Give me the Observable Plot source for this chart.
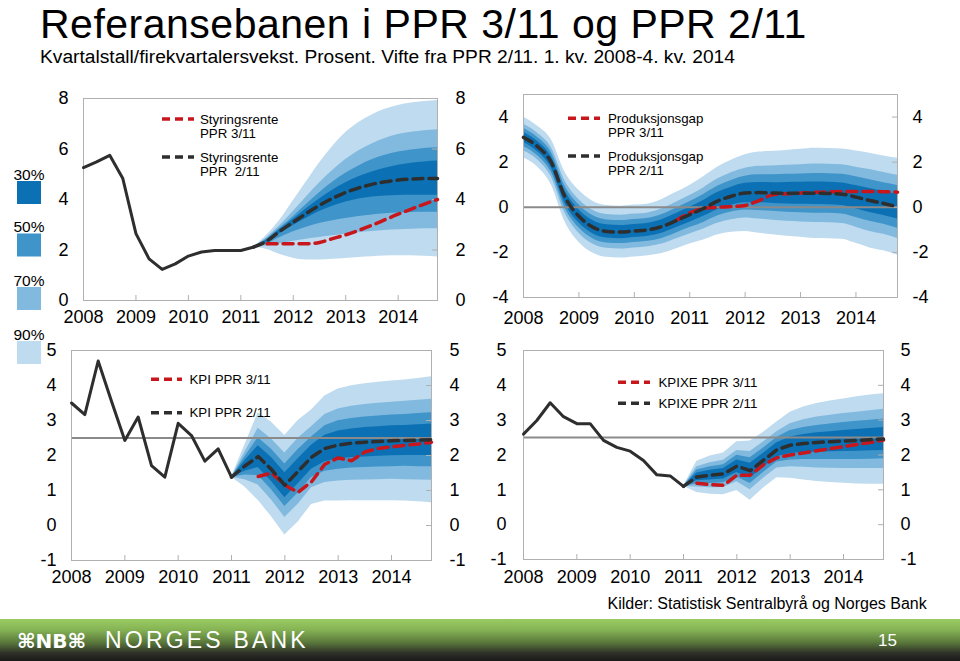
<!DOCTYPE html>
<html>
<head>
<meta charset="utf-8">
<script src="https://cdn.jsdelivr.net/npm/d3@7"></script>
<script src="https://cdn.jsdelivr.net/npm/@observablehq/plot@0.6"></script>
<style>
  html,body{margin:0;padding:0;background:#fff;}
  #page{position:relative;width:960px;height:661px;overflow:hidden;background:#fff;font-family:"Liberation Sans",Arial,Helvetica,sans-serif;}
  .panel{position:absolute;}
  .panel svg{display:block;}
  #footer{position:absolute;left:0;top:619px;width:960px;height:42px;background:linear-gradient(to bottom,#9acb62 0%,#86b455 25%,#5b7a3c 55%,#2d2f28 82%,#1a1a1a 100%);}
  #overlay{position:absolute;left:0;top:0;}
</style>
</head>
<body>
<div id="page">
  <div id="footer"></div>
  <div class="panel" id="p1" style="left:40px;top:85px"></div>
  <div class="panel" id="p2" style="left:480px;top:80px"></div>
  <div class="panel" id="p3" style="left:30px;top:340px"></div>
  <div class="panel" id="p4" style="left:480px;top:340px"></div>
  <svg id="overlay" width="960" height="661"></svg>
</div>
<script>
// ---------------- data ----------------
const years = [2008, 2009, 2010, 2011, 2012, 2013, 2014];
const bandLevels = ["90%", "70%", "50%", "30%"];
const bandColors = ["#bfdbef", "#82badf", "#3f94c9", "#0b71b4"];
const legendLevels = ["30%", "50%", "70%", "90%"];
const legendColors = ["#0b71b4", "#3f94c9", "#82badf", "#bfdbef"];

// Panel 1: Styringsrente (quarterly)
const rateHistStart = 2008;
const rateHist = [5.26, 5.49, 5.75, 4.83, 2.65, 1.65, 1.23, 1.45, 1.76, 1.92, 1.98, 1.98, 1.98, 2.12];
const rateFanStart = 2011.25;
const rate211 = [2.12, 2.36, 2.75, 3.1, 3.45, 3.77, 4.05, 4.28, 4.46, 4.6, 4.7, 4.77, 4.81, 4.83, 4.83];
const rateHi90 = [2.12, 2.6, 3.2, 3.95, 4.7, 5.45, 6.1, 6.65, 7.05, 7.35, 7.57, 7.72, 7.82, 7.88, 7.92];
const rateHi70 = [2.12, 2.5, 2.98, 3.52, 4.1, 4.65, 5.15, 5.58, 5.93, 6.2, 6.42, 6.57, 6.66, 6.72, 6.76];
const rateHi50 = [2.12, 2.45, 2.88, 3.32, 3.8, 4.27, 4.68, 5.04, 5.33, 5.57, 5.75, 5.88, 5.96, 6.02, 6.05];
const rateHi30 = [2.12, 2.41, 2.82, 3.22, 3.63, 4.02, 4.37, 4.66, 4.9, 5.09, 5.24, 5.36, 5.44, 5.49, 5.52];
const rateLo30 = [2.12, 2.31, 2.66, 2.97, 3.26, 3.52, 3.73, 3.9, 4.02, 4.1, 4.14, 4.16, 4.17, 4.17, 4.17];
const rateLo50 = [2.12, 2.25, 2.5, 2.72, 2.9, 3.05, 3.16, 3.25, 3.33, 3.39, 3.44, 3.47, 3.49, 3.5, 3.5];
const rateLo70 = [2.12, 2.16, 2.25, 2.35, 2.43, 2.5, 2.56, 2.62, 2.68, 2.73, 2.77, 2.8, 2.82, 2.84, 2.84];
const rateLo90 = [2.12, 2.02, 1.82, 1.67, 1.6, 1.6, 1.63, 1.66, 1.7, 1.73, 1.76, 1.77, 1.77, 1.75, 1.72];
const rate311Start = 2011.5;
const rate311 = [2.25, 2.25, 2.25, 2.25, 2.3, 2.45, 2.6, 2.78, 2.98, 3.2, 3.42, 3.62, 3.82, 4.0];
const rateTicks = [0, 2, 4, 6, 8];

// Panel 2: Produksjonsgap
const gapStart = 2008;
const gap211 = [3.1, 2.7, 2.0, 0.45, -0.4, -0.88, -1.07, -1.1, -1.05, -1.0, -0.85, -0.6, -0.33, -0.05, 0.27, 0.49, 0.63, 0.65, 0.63, 0.62, 0.62, 0.62, 0.61, 0.58, 0.45, 0.3, 0.17, 0.02];
const gapW90 = [0.9, 0.9, 1.0, 1.1, 1.15, 1.15, 1.15, 1.15, 1.15, 1.15, 1.2, 1.25, 1.3, 1.4, 1.5, 1.6, 1.7, 1.8, 1.85, 1.9, 1.95, 2.0, 2.0, 2.0, 2.05, 2.1, 2.1, 2.15];
const gapW70 = [0.59, 0.59, 0.65, 0.72, 0.75, 0.75, 0.75, 0.75, 0.75, 0.75, 0.78, 0.81, 0.85, 0.91, 0.98, 1.04, 1.1, 1.17, 1.2, 1.24, 1.27, 1.3, 1.3, 1.3, 1.33, 1.37, 1.37, 1.4];
const gapW50 = [0.4, 0.4, 0.44, 0.48, 0.51, 0.51, 0.51, 0.51, 0.51, 0.51, 0.53, 0.55, 0.57, 0.62, 0.66, 0.7, 0.75, 0.79, 0.81, 0.84, 0.86, 0.88, 0.88, 0.88, 0.9, 0.92, 0.92, 0.95];
const gapW30 = [0.23, 0.23, 0.25, 0.28, 0.29, 0.29, 0.29, 0.29, 0.29, 0.29, 0.3, 0.31, 0.33, 0.35, 0.38, 0.4, 0.43, 0.45, 0.46, 0.48, 0.49, 0.5, 0.5, 0.5, 0.51, 0.53, 0.53, 0.54];
const gap311Start = 2010.75;
const gap311 = [-0.6, -0.25, -0.05, 0.0, 0.03, 0.08, 0.3, 0.55, 0.6, 0.63, 0.66, 0.68, 0.7, 0.7, 0.7, 0.69, 0.67];
const gapTicks = [-4, -2, 0, 2, 4];
const gapZero = 0;

// Panel 3: KPI
const cpiHistStart = 2008;
const cpiHist = [3.5, 3.17, 4.7, 3.55, 2.43, 3.1, 1.71, 1.38, 2.92, 2.57, 1.84, 2.19, 1.38];
const cpiFanStart = 2011;
const cpi211 = [1.38, 1.7, 1.97, 1.6, 1.15, 1.55, 1.95, 2.2, 2.3, 2.35, 2.38, 2.4, 2.42, 2.43, 2.44, 2.45];
const cpiW90 = [0, 0.6, 1.25, 1.35, 1.42, 1.45, 1.35, 1.5, 1.6, 1.64, 1.67, 1.69, 1.71, 1.73, 1.76, 1.8];
const cpiW70 = [0, 0.39, 0.81, 0.87, 0.92, 0.94, 0.87, 0.97, 1.03, 1.06, 1.08, 1.09, 1.1, 1.12, 1.14, 1.16];
const cpiW50 = [0, 0.26, 0.54, 0.58, 0.61, 0.62, 0.58, 0.65, 0.69, 0.71, 0.72, 0.73, 0.74, 0.74, 0.76, 0.77];
const cpiW30 = [0, 0.15, 0.31, 0.34, 0.36, 0.36, 0.34, 0.38, 0.4, 0.41, 0.42, 0.42, 0.43, 0.43, 0.44, 0.45];
const cpi311Start = 2011.5;
const cpi311 = [1.4, 1.5, 1.15, 0.95, 1.25, 1.75, 1.93, 1.85, 2.1, 2.2, 2.25, 2.29, 2.33, 2.38];

// Panel 4: KPIXE
const kpixeHistStart = 2008;
const kpixeHist = [2.6, 2.99, 3.5, 3.1, 2.9, 2.9, 2.42, 2.22, 2.11, 1.84, 1.43, 1.4, 1.1];
const kpixeFanStart = 2011;
const kpixe211 = [1.1, 1.37, 1.42, 1.46, 1.68, 1.55, 1.85, 2.15, 2.28, 2.33, 2.36, 2.38, 2.4, 2.42, 2.44, 2.46];
const kpixeW90 = [0, 0.45, 0.55, 0.6, 0.7, 0.85, 0.8, 0.8, 0.95, 1.05, 1.12, 1.17, 1.21, 1.25, 1.28, 1.3];
const kpixeW70 = [0, 0.29, 0.36, 0.39, 0.45, 0.55, 0.52, 0.52, 0.62, 0.68, 0.73, 0.76, 0.79, 0.81, 0.83, 0.85];
const kpixeW50 = [0, 0.2, 0.24, 0.26, 0.31, 0.37, 0.35, 0.35, 0.42, 0.46, 0.49, 0.51, 0.53, 0.55, 0.56, 0.57];
const kpixeW30 = [0, 0.11, 0.14, 0.15, 0.18, 0.21, 0.2, 0.2, 0.24, 0.26, 0.28, 0.29, 0.3, 0.31, 0.32, 0.33];
const kpixe311Start = 2011.25;
const kpixe311 = [1.19, 1.15, 1.13, 1.42, 1.42, 1.72, 1.92, 2.0, 2.06, 2.12, 2.18, 2.24, 2.3, 2.36, 2.43];
const inflTicks = [-1, 0, 1, 2, 3, 4, 5];
const inflationTarget = 2.5;

// ---------------- helpers ----------------
const DARK = "#2e2e2e", RED = "#c8161d", GRID = "#b0b0b0";
const FONT = '"Liberation Sans", Arial, Helvetica, sans-serif';

function seriesRows(start, values) {
  return values.map((v, i) => ({t: start + i * 0.25, v}));
}
function fanRows(start, med, lows, highs) {
  return med.map((m, i) => ({t: start + i * 0.25, med: m, lo: lows.map(a => a[i]), hi: highs.map(a => a[i])}));
}
function symFan(start, med, widths) {
  const lows = widths.map(w => med.map((m, i) => m - w[i]));
  const highs = widths.map(w => med.map((m, i) => m + w[i]));
  return fanRows(start, med, lows, highs);
}

function panel(id, c) {
  const pw = c.width - c.ml - c.mr, ph = c.height - c.mt - c.mb;
  const fmt = d => String(d);
  const marks = [
    ...bandLevels.map((_, k) => Plot.areaY(c.fan, {x: "t", y1: d => d.lo[k], y2: d => d.hi[k], fill: bandColors[k], curve: c.curve})),
    c.ref != null ? Plot.ruleY([c.ref], {stroke: "#8a8a8a", strokeWidth: 2}) : null,
    Plot.frame({stroke: GRID, strokeWidth: 1}),
    Plot.tickX(years.slice(1), {x: d => d, insetTop: ph - 5, stroke: GRID}),
    Plot.tickY(c.yticks, {y: d => d, insetLeft: pw - 5, stroke: GRID}),
    c.red ? Plot.line(c.red, {x: "t", y: "v", stroke: RED, strokeWidth: 3.5, strokeDasharray: "10,6", curve: c.curve}) : null,
    Plot.line(c.fan, {x: "t", y: "med", stroke: DARK, strokeWidth: 3.5, strokeDasharray: "10,6", curve: c.curve}),
    c.hist ? Plot.line(c.hist, {x: "t", y: "v", stroke: DARK, strokeWidth: 3}) : null,
    Plot.axisY(c.yticks, {anchor: "left", tickSize: 0, tickPadding: c.padL, tickFormat: fmt, fontSize: 18}),
    Plot.axisY(c.yticks, {anchor: "right", tickSize: 0, tickPadding: c.padR, tickFormat: fmt, fontSize: 18}),
    Plot.axisX(years, {anchor: "bottom", tickSize: 0, tickPadding: c.padX, tickFormat: fmt, fontSize: 18})
  ].filter(Boolean);
  const svg = Plot.plot({
    width: c.width, height: c.height,
    marginLeft: c.ml, marginRight: c.mr, marginTop: c.mt, marginBottom: c.mb,
    x: {domain: [2008, 2014.75], label: null},
    y: {domain: c.ydomain, label: null},
    style: {background: "transparent", fontSize: "18px", fontFamily: FONT, color: "#000", overflow: "visible"},
    marks
  });
  document.getElementById(id).appendChild(svg);
}

// Panel 1
panel("p1", {
  width: 450, height: 250, ml: 43, mr: 53, mt: 13, mb: 35,
  ydomain: [0, 8], yticks: rateTicks, padL: 15, padR: 18, padX: 10, curve: "monotone-x",
  fan: fanRows(rateFanStart, rate211, [rateLo90, rateLo70, rateLo50, rateLo30], [rateHi90, rateHi70, rateHi50, rateHi30]),
  hist: seriesRows(rateHistStart, rateHist),
  red: seriesRows(rate311Start, rate311)
});
// Panel 2
panel("p2", {
  width: 470, height: 255, ml: 43, mr: 53, mt: 14, mb: 38,
  ydomain: [-4, 5], yticks: gapTicks, padL: 15, padR: 15, padX: 14, curve: "monotone-x",
  fan: symFan(gapStart, gap211, [gapW90, gapW70, gapW50, gapW30]),
  ref: gapZero,
  red: seriesRows(gap311Start, gap311)
});
// Panel 3
panel("p3", {
  width: 450, height: 255, ml: 41, mr: 49, mt: 10, mb: 35,
  ydomain: [-1, 5], yticks: inflTicks, padL: 15, padR: 18, padX: 10, curve: "linear",
  fan: symFan(cpiFanStart, cpi211, [cpiW90, cpiW70, cpiW50, cpiW30]),
  hist: seriesRows(cpiHistStart, cpiHist),
  ref: inflationTarget,
  red: seriesRows(cpi311Start, cpi311)
});
// Panel 4
panel("p4", {
  width: 450, height: 255, ml: 43, mr: 47, mt: 10, mb: 36,
  ydomain: [-1, 5], yticks: inflTicks, padL: 17, padR: 17, padX: 11, curve: "linear",
  fan: symFan(kpixeFanStart, kpixe211, [kpixeW90, kpixeW70, kpixeW50, kpixeW30]),
  hist: seriesRows(kpixeHistStart, kpixeHist),
  ref: inflationTarget,
  red: seriesRows(kpixe311Start, kpixe311)
});

// ---------------- overlay texts / legends ----------------
const ov = d3.select("#overlay");
function txt(x, y, s, size, o = {}) {
  const t = ov.append("text").attr("x", x).attr("y", y).attr("font-size", size)
    .attr("font-family", o.family || FONT).attr("fill", o.fill || "#000")
    .attr("text-anchor", o.anchor || "start").text(s);
  if (o.weight) t.attr("font-weight", o.weight);
  if (o.ls) t.attr("letter-spacing", o.ls);
  return t;
}
txt(40, 37.5, "Referansebanen i PPR 3/11 og PPR 2/11", 41, {ls: 0.5});
txt(40, 63, "Kvartalstall/firekvartalersvekst. Prosent. Vifte fra PPR 2/11. 1. kv. 2008-4. kv. 2014", 19.2);

// fan level legend
const legTops = [181, 233.5, 287, 341];
legendLevels.forEach((lab, i) => {
  ov.append("rect").attr("x", 17).attr("y", legTops[i]).attr("width", 24).attr("height", 23).attr("fill", legendColors[i]);
  txt(29, legTops[i] - 1.5, lab, 15.5, {anchor: "middle"});
});

function legendEntry(x0, x1, y, color, lines, tx) {
  ov.append("line").attr("x1", x0).attr("x2", x1).attr("y1", y).attr("y2", y)
    .attr("stroke", color).attr("stroke-width", 3.5).attr("stroke-dasharray", "8,5");
  lines.forEach((l, i) => txt(tx, y + 4.7 + i * 14.3, l, 13.3));
}
legendEntry(162, 194, 119, RED, ["Styringsrente", "PPR 3/11"], 200);
legendEntry(162, 194, 157, DARK, ["Styringsrente", "PPR\u00a0 2/11"], 200);
legendEntry(568, 600, 118.3, RED, ["Produksjonsgap", "PPR 3/11"], 608);
legendEntry(568, 600, 156, DARK, ["Produksjonsgap", "PPR 2/11"], 608);
legendEntry(151, 182, 379.3, RED, ["KPI PPR 3/11"], 189.5);
legendEntry(151, 182, 412.7, DARK, ["KPI PPR 2/11"], 189.5);
legendEntry(618, 650, 382.3, RED, ["KPIXE PPR 3/11"], 658.5);
legendEntry(618, 650, 403.3, DARK, ["KPIXE PPR 2/11"], 658.5);

txt(607.5, 609, "Kilder: Statistisk Sentralbyrå og Norges Bank", 16);

// footer
txt(17, 648, "\u2318NB\u2318", 20, {fill: "#fff", family: '"DejaVu Sans", sans-serif', weight: "bold"});
txt(105, 648, "NORGES BANK", 23, {fill: "#fff", ls: 3.2});
txt(878, 646, "15", 17, {fill: "#fff", family: '"Liberation Sans Narrow", "Liberation Sans", sans-serif'});
</script>
</body>
</html>
